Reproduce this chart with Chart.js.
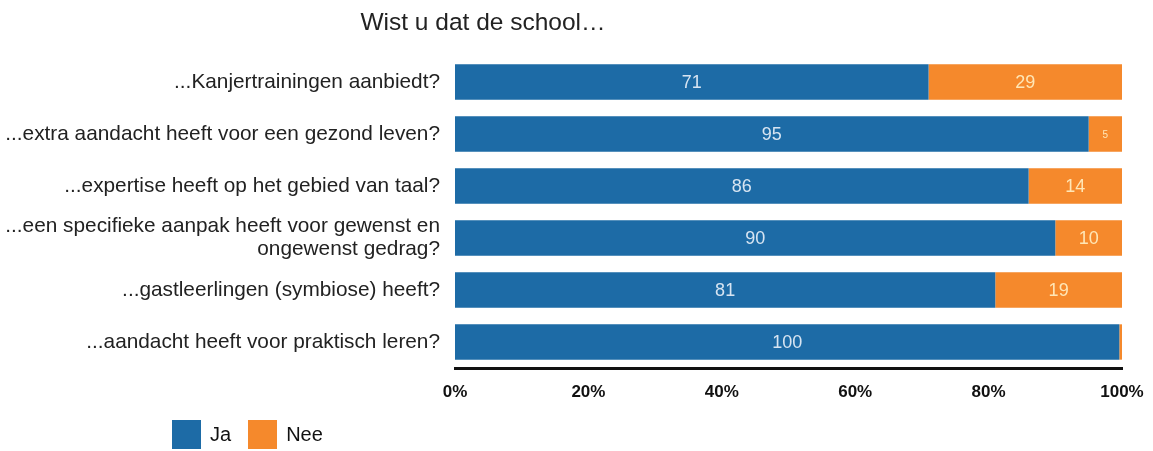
<!DOCTYPE html>
<html>
<head>
<meta charset="utf-8">
<script src="https://cdn.jsdelivr.net/npm/chart.js@4.4.1/dist/chart.umd.min.js"></script>
<style>
  html, body { margin: 0; padding: 0; background: #fff; }
  #wrap { position: relative; width: 1153px; height: 451px; }
  #title { position: absolute; left: 0; top: 8px; width: 966px; text-align: center;
           font: 24.5px "Liberation Sans", Arial, sans-serif; color: #222; }
  #legend { position: absolute; left: 172px; top: 420px; display: flex; align-items: center;
            font: 20px "Liberation Sans", Arial, sans-serif; color: #111; }
  #legend span.box { display: inline-block; width: 29px; height: 29px; margin-right: 9px; }
  #legend span.lbl { margin-right: 17px; }
</style>
</head>
<body>
<div id="wrap">
  <div id="title">Wist u dat de school…</div>
  <canvas id="c" width="1153" height="451"></canvas>
  <div id="legend"></div>
</div>
<script>
// data
var questions = [
    '...Kanjertrainingen aanbiedt?',
    '...extra aandacht heeft voor een gezond leven?',
    '...expertise heeft op het gebied van taal?',
    ['...een specifieke aanpak heeft voor gewenst en', 'ongewenst gedrag?'],
    '...gastleerlingen (symbiose) heeft?',
    '...aandacht heeft voor praktisch leren?'
];
var ja = [71, 95, 86, 90, 81, 99.6];
var nee = [29, 5, 14, 10, 19, 0.4];
var xTicks = ['0%', '20%', '40%', '60%', '80%', '100%'];

var blue = '#1d6ba6';
var orange = '#f5892c';
var font = '"Liberation Sans", Arial, sans-serif';

// labels inside the bar segments
var segmentLabels = {
    id: 'segmentLabels',
    afterDatasetsDraw: function(chart) {
        var ctx = chart.ctx;
        ctx.save();
        ctx.textAlign = 'center';
        ctx.textBaseline = 'middle';
        chart.data.datasets.forEach(function(ds, di) {
            var meta = chart.getDatasetMeta(di);
            meta.data.forEach(function(bar, i) {
                var v = ds.data[i];
                var w = Math.abs(bar.x - bar.base);
                if (w < 8) return;
                ctx.font = (w < 40 ? '10px ' : '18px ') + font;
                ctx.fillStyle = di == 0 ? 'rgba(225,235,245,0.95)' : 'rgba(255,235,190,0.95)';
                ctx.fillText(Math.round(v), (bar.x + bar.base) / 2, bar.y + 1);
            });
        });
        ctx.restore();
    }
};

new Chart(document.getElementById('c'), {
    type: 'bar',
    data: {
        labels: questions,
        datasets: [
            { label: 'Ja', data: ja, backgroundColor: blue },
            { label: 'Nee', data: nee, backgroundColor: orange }
        ]
    },
    options: {
        indexAxis: 'y',
        responsive: false,
        animation: false,
        layout: { padding: { top: 56, right: 31, bottom: 45, left: 0 } },
        datasets: { bar: { categoryPercentage: 1, barPercentage: 0.68 } },
        plugins: {
            legend: { display: false },
            tooltip: { enabled: false }
        },
        scales: {
            x: {
                stacked: true,
                min: 0,
                max: 100,
                grid: { display: false, drawTicks: false },
                border: { display: true, color: '#111', width: 3 },
                ticks: {
                    stepSize: 20,
                    padding: 14,
                    color: '#111',
                    font: { family: font, size: 17, weight: 'bold' },
                    callback: function(v, i) { return xTicks[i]; }
                },
                afterFit: function(s) {
                    s.height = 38;
                    s.paddingLeft = 0;
                    s.paddingRight = 0;
                }
            },
            y: {
                stacked: true,
                grid: { display: false, drawTicks: false },
                border: { display: false },
                ticks: {
                    padding: 15,
                    color: '#222',
                    font: { family: font, size: 20.8, lineHeight: 1.1 }
                },
                afterFit: function(s) { s.width = 455; }
            }
        }
    },
    plugins: [segmentLabels]
});

// legend
var legend = document.getElementById('legend');
[['Ja', blue], ['Nee', orange]].forEach(function(item) {
    legend.innerHTML += '<span class="box" style="background:' + item[1] + '"></span><span class="lbl">' + item[0] + '</span>';
});
</script>
</body>
</html>
